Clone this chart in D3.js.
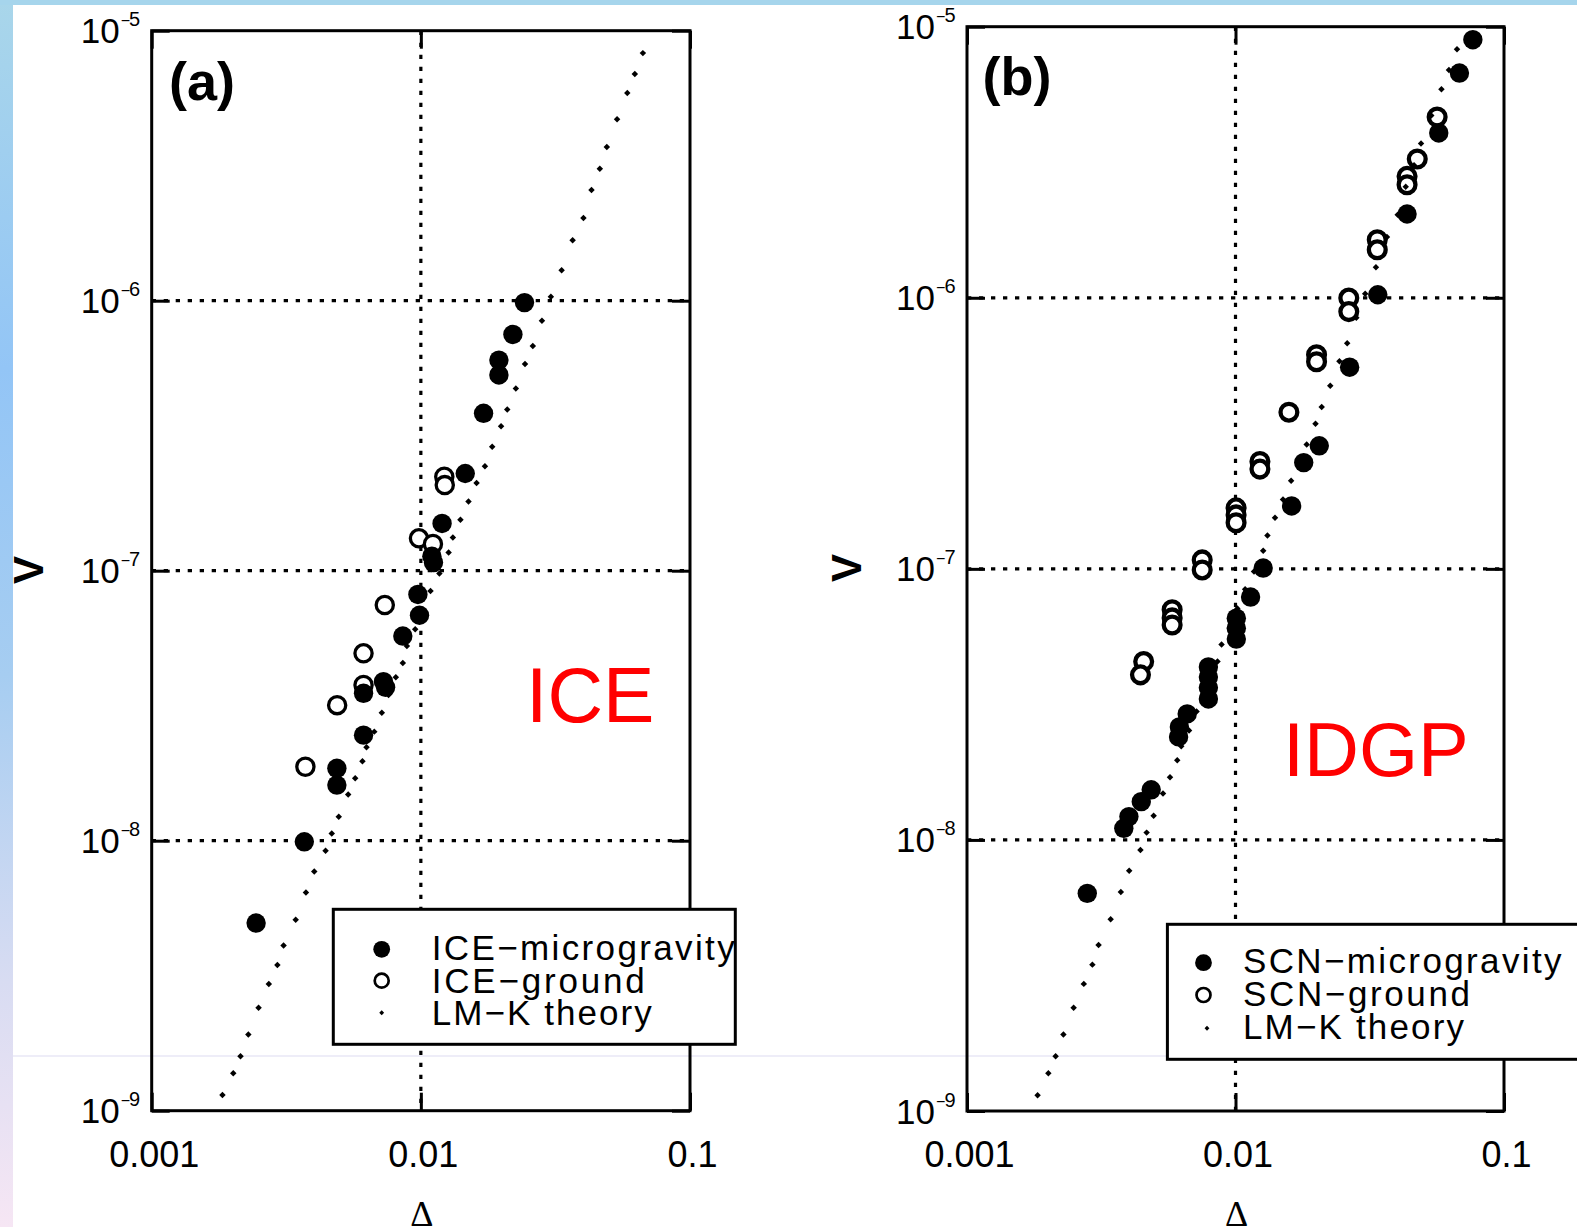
<!DOCTYPE html>
<html>
<head>
<meta charset="utf-8">
<script src="https://cdn.jsdelivr.net/npm/d3@7"></script>
<style>
body { margin: 0; background: #fff; overflow: hidden; }
svg { display: block; }
</style>
</head>
<body>
<svg id="chart" width="1577" height="1227"></svg>
<script>
// ---- data ----
var xTicks = [0.001, 0.01, 0.1];
var xTickLabels = ['0.001', '0.01', '0.1'];
var yTicks = [1e-9, 1e-8, 1e-7, 1e-6, 1e-5];
var yTickExp = ['9', '8', '7', '6', '5'];

// LM-K theory, same curve in both panels
var theoryDelta = [0.001832, 0.002009, 0.002138, 0.002286, 0.002495, 0.002723, 0.002931, 0.003090, 0.003428, 0.003741,
    0.004018, 0.004426, 0.004667, 0.004955, 0.005370, 0.005702, 0.006067, 0.006281, 0.006714, 0.007161,
    0.007586, 0.008072, 0.008570, 0.008872, 0.009528, 0.01016, 0.01086, 0.01172, 0.01268, 0.01315,
    0.01403, 0.01503, 0.01611, 0.01730, 0.01841, 0.01986, 0.02094, 0.02254, 0.02438, 0.02606,
    0.02818, 0.03041, 0.03334, 0.03664, 0.04018, 0.04305, 0.04624, 0.04909, 0.05358, 0.05848,
    0.06237, 0.06683];
var theoryV = [1.143e-9, 1.377e-9, 1.592e-9, 1.914e-9, 2.404e-9, 2.944e-9, 3.467e-9, 4.093e-9, 5.093e-9, 6.427e-9,
    7.691e-9, 9.183e-9, 1.064e-8, 1.227e-8, 1.483e-8, 1.702e-8, 1.968e-8, 2.218e-8, 2.535e-8, 2.979e-8,
    3.467e-8, 4.027e-8, 4.550e-8, 5.260e-8, 6.067e-8, 7.145e-8, 8.414e-8, 9.772e-8, 1.167e-7, 1.327e-7,
    1.545e-7, 1.803e-7, 2.113e-7, 2.438e-7, 2.877e-7, 3.428e-7, 3.954e-7, 4.732e-7, 5.834e-7, 6.792e-7,
    8.433e-7, 1.035e-6, 1.297e-6, 1.675e-6, 2.023e-6, 2.570e-6, 3.083e-6, 3.707e-6, 4.699e-6, 5.875e-6,
    6.918e-6, 8.260e-6];

// (a) ICE
var iceMicroDelta = [0.02427, 0.02198, 0.01950, 0.01950, 0.01710, 0.01462, 0.01199, 0.01099, 0.01114, 0.009750,
    0.009886, 0.008570, 0.007261, 0.007396, 0.006124, 0.006124, 0.004875, 0.004875, 0.003690, 0.002443];
var iceMicroV = [9.840e-7, 7.499e-7, 6.026e-7, 5.309e-7, 3.828e-7, 2.291e-7, 1.496e-7, 1.132e-7, 1.072e-7, 8.166e-8,
    6.839e-8, 5.728e-8, 3.882e-8, 3.698e-8, 3.516e-8, 2.460e-8, 1.854e-8, 1.607e-8, 9.908e-9, 4.955e-9];
var iceGroundDelta = [0.01222, 0.01227, 0.009840, 0.01109, 0.007345, 0.006124, 0.006124, 0.004887, 0.003724];
var iceGroundV = [2.228e-7, 2.075e-7, 1.318e-7, 1.256e-7, 7.464e-8, 4.943e-8, 3.776e-8, 3.177e-8, 1.879e-8];

// (b) SCN
var scnMicroDelta = [0.07656, 0.06823, 0.05715, 0.04355, 0.03388, 0.02661, 0.02051, 0.01795, 0.01618, 0.01268,
    0.01138, 0.01007, 0.01007, 0.01007, 0.007925, 0.007925, 0.007925, 0.007925, 0.006607, 0.006180,
    0.006138, 0.004853, 0.004457, 0.004009, 0.003837, 0.002805];
var scnMicroV = [8.954e-6, 6.745e-6, 4.055e-6, 2.037e-6, 1.026e-6, 5.546e-7, 2.844e-7, 2.466e-7, 1.706e-7, 1.007e-7,
    7.870e-8, 6.577e-8, 6.039e-8, 5.508e-8, 4.345e-8, 3.990e-8, 3.639e-8, 3.311e-8, 2.917e-8, 2.612e-8,
    2.399e-8, 1.531e-8, 1.384e-8, 1.219e-8, 1.104e-8, 6.353e-9];
var scnGroundDelta = [0.05636, 0.04753, 0.04355, 0.04355, 0.03373, 0.03373, 0.02642, 0.02642, 0.02004, 0.02004,
    0.01581, 0.01233, 0.01233, 0.01005, 0.01005, 0.01005, 0.007516, 0.007516, 0.005808, 0.005808,
    0.005808, 0.004550, 0.004426];
var scnGroundV = [4.645e-6, 3.251e-6, 2.805e-6, 2.612e-6, 1.637e-6, 1.503e-6, 9.977e-7, 8.892e-7, 6.166e-7, 5.808e-7,
    3.784e-7, 2.489e-7, 2.333e-7, 1.679e-7, 1.581e-7, 1.479e-7, 1.079e-7, 9.908e-8, 7.063e-8, 6.592e-8,
    6.209e-8, 4.550e-8, 4.064e-8];

var iceLegend = ['ICE\u2212microgravity', 'ICE\u2212ground', 'LM\u2212K theory'];
var scnLegend = ['SCN\u2212microgravity', 'SCN\u2212ground', 'LM\u2212K theory'];

// ---- layout ----
var FONT = '"Liberation Sans", Arial, Helvetica, sans-serif';
var SERIF = '"Liberation Serif", "Times New Roman", serif';

var panels = [
    {tag: '(a)', tagX: 169, tagY: 100, name: 'ICE', nameX: 526, nameY: 722, nameSize: 77,
     x0: 151.7, x1: 690, y0: 30.7, y1: 1110.7, vX: 43, vY: 570,
     microDelta: iceMicroDelta, microV: iceMicroV, groundDelta: iceGroundDelta, groundV: iceGroundV,
     ringR: 8.6, ringW: 3.3,
     legend: {x: 333.3, y: 909.3, w: 402, h: 135, markX: 381.7, dotX: 381.7, textX: 431.7,
              markY: [949.3, 980.7, 1012.7], baseY: [960, 992.5, 1025], labels: iceLegend, lengths: [303, 213, 220]}},
    {tag: '(b)', tagX: 982.6, tagY: 95, name: 'IDGP', nameX: 1283, nameY: 776, nameSize: 76,
     x0: 967, x1: 1504, y0: 26.7, y1: 1111, vX: 861, vY: 568,
     microDelta: scnMicroDelta, microV: scnMicroV, groundDelta: scnGroundDelta, groundV: scnGroundV,
     ringR: 8.4, ringW: 4.3,
     legend: {x: 1167.4, y: 924.3, w: 460, h: 135, markX: 1203.5, dotX: 1207, textX: 1243,
              markY: [962.7, 995, 1028.3], baseY: [973.3, 1005.5, 1039], labels: scnLegend, lengths: [318.5, 227, 221]}}
];

var svg = d3.select('#chart');

// page background: white slide with blue strips on the left and top
var defs = svg.append('defs');
var grad = defs.append('linearGradient').attr('id', 'leftStrip')
    .attr('x1', 0).attr('y1', 0).attr('x2', 0).attr('y2', 1);
[[0, '#a9d6ea'], [0.3, '#93c5f6'], [0.55, '#a6cdf1'], [0.8, '#d8dcf2'], [1, '#f6e6f4']].forEach(function (s) {
    grad.append('stop').attr('offset', s[0]).attr('stop-color', s[1]);
});
svg.append('rect').attr('width', 1577).attr('height', 1227).attr('fill', '#fff');
svg.append('line').attr('x1', 13).attr('x2', 1577).attr('y1', 1056).attr('y2', 1056)
    .attr('stroke', '#dedcf2').attr('stroke-width', 1.2);
svg.append('rect').attr('x', 0).attr('y', 0).attr('width', 13).attr('height', 1227).attr('fill', 'url(#leftStrip)');
svg.append('rect').attr('x', 0).attr('y', 0).attr('width', 1577).attr('height', 5).attr('fill', '#a6d5ec');

var lmkSymbol = d3.symbol().type(d3.symbolSquare).size(21);

drawPanel = function (p) {
    var x = d3.scaleLog().domain([0.001, 0.1]).range([p.x0, p.x1]);
    var y = d3.scaleLog().domain([1e-9, 1e-5]).range([p.y1, p.y0]);
    var g = svg.append('g');

    // dotted grid at the inner decades
    g.selectAll('.hgrid').data(yTicks.slice(1, -1)).enter().append('line')
        .attr('x1', p.x0).attr('x2', p.x1)
        .attr('y1', function (d) { return y(d); }).attr('y2', function (d) { return y(d); })
        .attr('stroke', '#000').attr('stroke-width', 3.2).attr('stroke-dasharray', '4.3 7.7');
    g.selectAll('.vgrid').data(xTicks.slice(1, -1)).enter().append('line')
        .attr('y1', p.y0).attr('y2', p.y1)
        .attr('x1', function (d) { return x(d); }).attr('x2', function (d) { return x(d); })
        .attr('stroke', '#000').attr('stroke-width', 3.2).attr('stroke-dasharray', '4.3 7.7');

    // ground (open) then microgravity (filled)
    g.selectAll('.ground').data(p.groundDelta).enter().append('circle')
        .attr('cx', function (d) { return x(d); })
        .attr('cy', function (d, i) { return y(p.groundV[i]); })
        .attr('r', p.ringR).attr('fill', '#fff').attr('stroke', '#000').attr('stroke-width', p.ringW);
    g.selectAll('.micro').data(p.microDelta).enter().append('circle')
        .attr('cx', function (d) { return x(d); })
        .attr('cy', function (d, i) { return y(p.microV[i]); })
        .attr('r', 9.7).attr('fill', '#000');
    g.selectAll('.lmk').data(theoryDelta).enter().append('path')
        .attr('d', lmkSymbol)
        .attr('transform', function (d, i) { return 'translate(' + x(d) + ',' + y(theoryV[i]) + ') rotate(45)'; })
        .attr('fill', '#000');

    // axes: inward ticks only, frame drawn separately
    var bottom = g.append('g').attr('transform', 'translate(0,' + p.y1 + ')')
        .call(d3.axisBottom(x).tickValues(xTicks).tickSizeInner(-18).tickSizeOuter(0)
            .tickFormat(function (d, i) { return xTickLabels[i]; }));
    bottom.attr('font-family', FONT).attr('font-size', 36);
    bottom.selectAll('text').attr('dy', null).attr('y', 56).attr('dx', 2).attr('fill', '#000');

    var top = g.append('g').attr('transform', 'translate(0,' + p.y0 + ')')
        .call(d3.axisTop(x).tickValues(xTicks).tickSizeInner(-18).tickSizeOuter(0).tickFormat(''));

    var left = g.append('g').attr('transform', 'translate(' + p.x0 + ',0)')
        .call(d3.axisLeft(y).tickValues(yTicks).tickSizeInner(-18).tickSizeOuter(0).tickPadding(11.5).tickFormat(''));
    left.attr('font-family', FONT);
    left.selectAll('.tick text').each(function (d, i) {
        var t = d3.select(this).attr('dy', null).attr('y', 12).attr('fill', '#000');
        t.append('tspan').attr('font-size', 35).text('10');
        t.append('tspan').attr('font-size', 16).attr('dy', -17).attr('dx', 1).text('\u2212');
        t.append('tspan').attr('font-size', 20).attr('dx', -1).text(yTickExp[i]);
    });

    var right = g.append('g').attr('transform', 'translate(' + p.x1 + ',0)')
        .call(d3.axisRight(y).tickValues(yTicks).tickSizeInner(-18).tickSizeOuter(0).tickFormat(''));

    [bottom, top, left, right].forEach(function (a) {
        a.select('.domain').remove();
        a.selectAll('.tick line').attr('stroke', '#000').attr('stroke-width', 3);
    });

    g.append('rect').attr('x', p.x0).attr('y', p.y0)
        .attr('width', p.x1 - p.x0).attr('height', p.y1 - p.y0)
        .attr('fill', 'none').attr('stroke', '#000').attr('stroke-width', 3);

    // labels
    g.append('text').attr('x', p.tagX).attr('y', p.tagY)
        .attr('font-family', FONT).attr('font-weight', 'bold').attr('font-size', 54).text(p.tag);
    g.append('text').attr('x', p.nameX).attr('y', p.nameY)
        .attr('font-family', FONT).attr('font-size', p.nameSize).attr('fill', '#ff0000').text(p.name);
    g.append('text').attr('transform', 'translate(' + p.vX + ',' + p.vY + ') rotate(-90)')
        .attr('text-anchor', 'middle').attr('font-family', FONT).attr('font-weight', 'bold')
        .attr('font-size', 42).text('V');
    g.append('text').attr('x', x(0.01) + 1).attr('y', 1226).attr('text-anchor', 'middle')
        .attr('font-family', SERIF).attr('font-size', 36).text('\u0394');

    // legend
    var L = p.legend;
    var lg = g.append('g');
    lg.append('rect').attr('x', L.x).attr('y', L.y).attr('width', L.w).attr('height', L.h)
        .attr('fill', '#fff').attr('stroke', '#000').attr('stroke-width', 3);
    lg.append('circle').attr('cx', L.markX).attr('cy', L.markY[0]).attr('r', 8.4).attr('fill', '#000');
    lg.append('circle').attr('cx', L.markX).attr('cy', L.markY[1]).attr('r', 7)
        .attr('fill', '#fff').attr('stroke', '#000').attr('stroke-width', 2.7);
    lg.append('path').attr('d', d3.symbol().type(d3.symbolSquare).size(12))
        .attr('transform', 'translate(' + L.dotX + ',' + L.markY[2] + ') rotate(45)');
    lg.selectAll('.ltext').data(L.labels).enter().append('text')
        .attr('x', L.textX).attr('y', function (d, i) { return L.baseY[i]; })
        .attr('font-family', FONT).attr('font-size', 35)
        .attr('textLength', function (d, i) { return L.lengths[i]; })
        .attr('lengthAdjust', 'spacing')
        .text(function (d) { return d; });
};

panels.forEach(function (p) { drawPanel(p); });
</script>
</body>
</html>
